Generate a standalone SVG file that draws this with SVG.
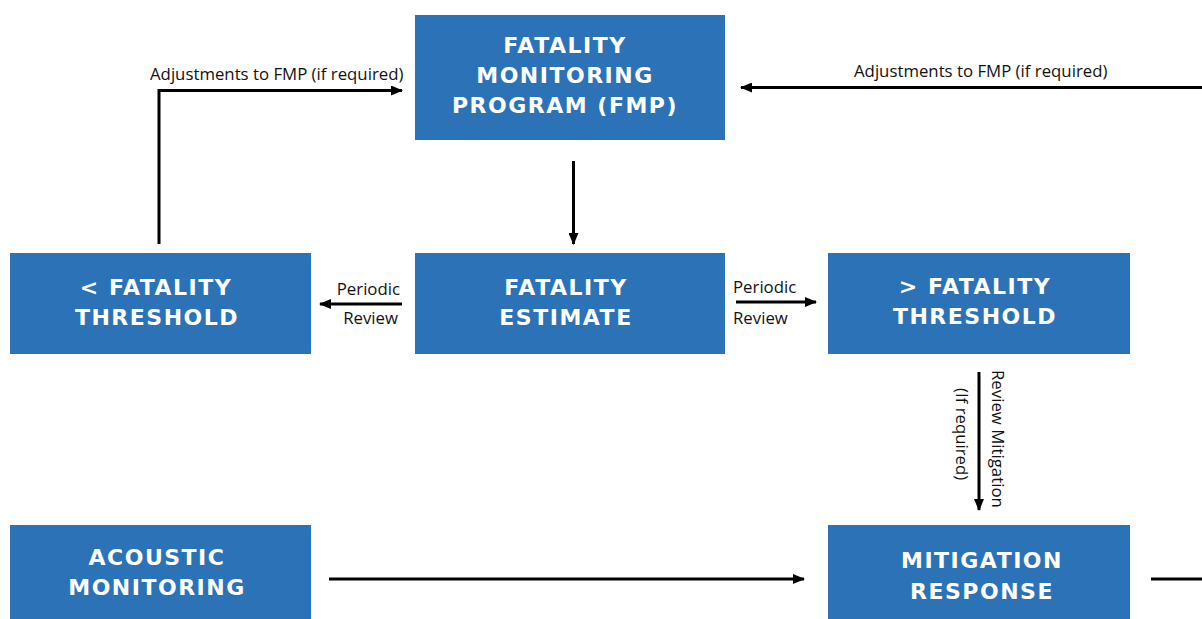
<svg xmlns="http://www.w3.org/2000/svg" width="1202" height="619" viewBox="0 0 1202 619">
<style>
.box{fill:#2B73B6;}
.bt{font-family:"DejaVu Sans","Liberation Sans",sans-serif;font-weight:bold;font-size:22px;letter-spacing:1.5px;fill:#FFFFFF;text-anchor:middle;}
.lbl{font-family:"Open Sans","Liberation Sans",sans-serif;font-size:16.8px;fill:#111111;}
.ln{stroke:#000;stroke-width:3;fill:none;}
</style>
<defs>
<marker id="ah" markerWidth="12" markerHeight="10" refX="11" refY="5" orient="auto" markerUnits="userSpaceOnUse">
<path d="M0,0 L12,5 L0,10 Z" fill="#000"/>
</marker>
</defs>
<rect width="1202" height="619" fill="#FFFFFF"/>
<g id="connectors">
<path class="ln" d="M159,244 V90.5 H402" marker-end="url(#ah)"/>
<path class="ln" d="M1202,87.5 H741" marker-end="url(#ah)"/>
<path class="ln" d="M573.5,161 V244" marker-end="url(#ah)"/>
<path class="ln" d="M402,304 H320" marker-end="url(#ah)"/>
<path class="ln" d="M736,302 H816" marker-end="url(#ah)"/>
<path class="ln" d="M979,372 V510" marker-end="url(#ah)"/>
<path class="ln" d="M329,579 H804" marker-end="url(#ah)"/>
<path class="ln" d="M1151,579 H1202"/>
<text class="lbl" x="150" y="80">Adjustments to FMP (if required)</text>
<text class="lbl" x="854" y="77">Adjustments to FMP (if required)</text>
<text class="lbl" x="400" y="295" text-anchor="end">Periodic</text>
<text class="lbl" x="398" y="324" text-anchor="end">Review</text>
<text class="lbl" x="733" y="293">Periodic</text>
<text class="lbl" x="733" y="324">Review</text>
<text class="lbl" transform="translate(992,370) rotate(90)">Review Mitigation</text>
<text class="lbl" transform="translate(956,388) rotate(90)">(If required)</text>
</g>
<g id="fmp">
<rect class="box" x="415" y="15" width="310" height="125"/>
<text class="bt" x="565" y="53">FATALITY</text>
<text class="bt" x="565" y="83">MONITORING</text>
<text class="bt" x="565" y="113">PROGRAM (FMP)</text>
</g>
<g id="lt-threshold">
<rect class="box" x="10" y="253" width="301" height="101"/>
<text class="bt" x="156" y="295">&lt; FATALITY</text>
<text class="bt" x="157" y="325">THRESHOLD</text>
</g>
<g id="estimate">
<rect class="box" x="415" y="253" width="310" height="101"/>
<text class="bt" x="566" y="295">FATALITY</text>
<text class="bt" x="566" y="325">ESTIMATE</text>
</g>
<g id="gt-threshold">
<rect class="box" x="828" y="253" width="302" height="101"/>
<text class="bt" x="975" y="294">&gt; FATALITY</text>
<text class="bt" x="975" y="324">THRESHOLD</text>
</g>
<g id="acoustic">
<rect class="box" x="10" y="525" width="301" height="100"/>
<text class="bt" x="157" y="565">ACOUSTIC</text>
<text class="bt" x="157" y="595">MONITORING</text>
</g>
<g id="mitigation">
<rect class="box" x="828" y="525" width="302" height="100"/>
<text class="bt" x="982" y="568">MITIGATION</text>
<text class="bt" x="982" y="599">RESPONSE</text>
</g>
</svg>
